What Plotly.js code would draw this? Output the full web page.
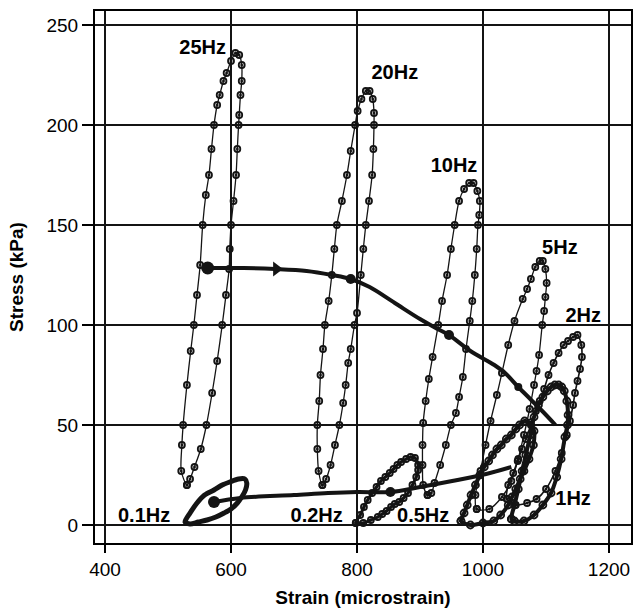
<!DOCTYPE html>
<html>
<head>
<meta charset="utf-8">
<script src="https://cdn.plot.ly/plotly-3.0.1.min.js"></script>
<style>html,body{margin:0;padding:0;background:#fff;}#chart{width:633px;height:608px;}</style>
</head>
<body>
<div id="chart"></div>
<script>
// ---- axis ticks ----
const xTicks = [400, 600, 800, 1000, 1200];
const yTicks = [0, 50, 100, 150, 200, 250];

// ---- hysteresis loops (strain in microstrain, stress in kPa) ----
const hz25X = [530,521,522,524,530,536,541,546,551,555,560,565,569,573,578,582,588,593,600,607,613,617,617,615,613,612,610,608,604,600,598,597,592,586,578,570,561,552,542,535,530];
const hz25Y = [20,27,40,50,70,87,100,115,130,150,165,175,188,200,210,215,222,226,232,236,235,230,222,215,205,200,188,175,162,150,138,128,115,100,82,66,50,38,29,23,20];

const hz20X = [745,739,737,737,740,742,746,749,755,760,764,768,776,784,790,797,801,807,814,820,825,827,827,826,824,819,814,810,806,800,796,790,786,782,778,772,765,758,751,745];
const hz20Y = [20,27,38,50,62,75,88,100,112,125,138,150,162,175,187,200,207,213,217,217,213,206,200,188,175,162,150,138,125,106,100,88,81,70,61,50,40,30,23,20];

const hz10X = [912,905,904,904,905,909,914,920,929,935,943,949,955,962,970,978,985,991,995,994,992,990,987,983,979,973,968,962,957,949,941,932,923,918,912];
const hz10Y = [15,20,30,40,51,62,73,84,100,112,125,138,150,162,168,171,171,167,162,155,150,138,125,112,102,88,74,64,56,50,40,30,21,16,15];

const hz5X = [990,988,996,1004,1012,1022,1030,1040,1050,1063,1070,1076,1083,1090,1095,1099,1101,1099,1097,1094,1089,1085,1081,1074,1065,1055,1045,1030,1010,990];
const hz5Y = [8,15,27,40,52,65,76,90,102,113,118,123,129,132,132,128,121,114,107,100,85,77,70,58,45,32,22,14,8,8];

const hz2X = [1038,1040,1048,1056,1062,1068,1076,1084,1090,1097,1104,1112,1120,1128,1135,1143,1150,1156,1157,1154,1150,1146,1143,1138,1133,1125,1115,1100,1085,1070,1052,1038];
const hz2Y = [13,20,26,33,38,43,50,57,62,68,75,81,86,90,92,94,95,90,84,78,72,66,60,52,45,36,27,18,13,11,10,13];

const hz1X = [1045,1050,1056,1062,1068,1075,1081,1088,1095,1102,1108,1114,1120,1125,1129,1133,1135,1134,1130,1124,1117,1108,1095,1081,1065,1050,1045];
const hz1Y = [3,10,18,27,35,45,54,60,64,67,69,70,70,69,67,62,55,50,44,33,24,16,10,5,2,2,3];

const hz05X = [965,970,975,981,988,995,1002,1009,1015,1022,1029,1037,1045,1052,1058,1066,1075,1081,1080,1073,1065,1059,1052,1046,1040,1028,1017,1000,980,965];
const hz05Y = [2,6,10,15,20,25,29,32,35,38,40,43,45,48,50,52,51,47,40,33,27,23,18,14,10,5,2,1,0,2];

const hz02X = [798,805,811,817,824,831,838,845,852,858,864,870,878,885,892,897,897,894,888,881,874,867,860,854,847,840,833,822,810,798];
const hz02Y = [1,5,9,12.5,16,19,22,24,26,28,30,31.5,33,34,33.5,30,27.5,24,20,16,13.5,11.5,10.5,9,7,5.5,4,2.5,1,1];

const hz01X = [527,535,546,558,573,586,598,612,622,625,623,617,610,600,589,576,562,548,535,527];
const hz01Y = [1.5,6,11,15,17.5,20,21.5,23,23,21,17.5,14,11,8,6,4,2.5,1.5,0.5,1.5];

// ---- trajectories joining the loop centres ----
const highPathX = [563,620,670,720,760,790,820,860,900,928,946,980,1018,1035,1056,1075,1094,1115];
const highPathY = [128.5,128.5,128,127,125,123,119,111,103,98,95,87,80,76,69,63,57,50];
const highDotX = [563,790,946,1056];
const highDotY = [128.5,123,95,69];

const lowPathX = [573,615,700,754,800,853,900,951,1005,1045];
const lowPathY = [11.5,13.5,15,16,16.5,16.5,19,22,25.5,29];
const lowDotX = [573,853];
const lowDotY = [11.5,16.5];

const arrowX = [672];
const arrowY = [128];

// ---- frequency labels ----
const labelText = ['25Hz','20Hz','10Hz','5Hz','2Hz','1Hz','0.1Hz','0.2Hz','0.5Hz'];
const labelX = [555,860,954,1122,1159,1143,462,736,905];
const labelY = [238,225.5,179,138,104,12.5,4,4,4];

const ink = '#141414';

function loopTrace(x, y, lw, msize) {
  return {
    type: 'scatter', mode: msize > 0 ? 'lines+markers' : 'lines',
    x: x, y: y,
    line: {color: ink, width: lw, shape: 'spline', smoothing: 0.8},
    marker: {symbol: 'circle-open-dot', size: msize, color: ink, opacity: 1, line: {width: 1.8, color: ink}},
    hoverinfo: 'skip'
  };
}

const traces = [
  loopTrace(hz25X, hz25Y, 1.3, 6),
  loopTrace(hz20X, hz20Y, 1.3, 6),
  loopTrace(hz10X, hz10Y, 1.3, 6),
  loopTrace(hz5X, hz5Y, 1.3, 6),
  loopTrace(hz2X, hz2Y, 1.6, 6),
  loopTrace(hz1X, hz1Y, 4, 7),
  loopTrace(hz05X, hz05Y, 4, 7),
  loopTrace(hz02X, hz02Y, 3, 6),
  loopTrace(hz01X, hz01Y, 5, 0),
  {type:'scatter', mode:'lines', x: highPathX, y: highPathY, line:{color: ink, width: 4, shape:'spline'}, hoverinfo:'skip'},
  {type:'scatter', mode:'markers', x: highDotX, y: highDotY, marker:{color: ink, opacity: 1, size: [13,10,10,8], line:{width:0}}, hoverinfo:'skip'},
  {type:'scatter', mode:'lines', x: lowPathX, y: lowPathY, line:{color: ink, width: 4, shape:'spline'}, hoverinfo:'skip'},
  {type:'scatter', mode:'markers', x: lowDotX, y: lowDotY, marker:{color: ink, opacity: 1, size: [12,10], line:{width:0}}, hoverinfo:'skip'},
  {type:'scatter', mode:'markers', x: arrowX, y: arrowY, marker:{symbol:'triangle-right', color: ink, opacity: 1, size: 13, line:{width:0}}, hoverinfo:'skip'},
  {type:'scatter', mode:'text', x: labelX, y: labelY, text: labelText, textposition:'middle center',
   textfont:{family:'Liberation Sans, Arial, sans-serif', size:20, color:'#000', weight:'bold'}, hoverinfo:'skip'}
];

const axisCommon = {
  showgrid: true, gridcolor: ink, gridwidth: 2,
  showline: true, mirror: true, linecolor: '#000', linewidth: 2,
  ticks: 'outside', tickwidth: 2, tickcolor: '#000',
  tickfont: {family:'Liberation Sans, Arial, sans-serif', size: 19, color:'#000'},
  ticklabeloverflow: 'allow',
  zeroline: false, fixedrange: true
};

const layout = {
  width: 633, height: 608,
  margin: {l: 95, r: 2, t: 11, b: 65},
  paper_bgcolor: '#fff', plot_bgcolor: '#fff',
  showlegend: false,
  font: {family: 'Liberation Sans, Arial, sans-serif', color: '#000'},
  xaxis: Object.assign({}, axisCommon, {
    range: [384.1, 1234.9], tickmode: 'array', tickvals: xTicks, ticktext: xTicks.map(String), ticklen: 8,
    title: {text: '<b>Strain (microstrain)</b>', font: {size: 19, color:'#000'}, standoff: 14}
  }),
  yaxis: Object.assign({}, axisCommon, {
    range: [-9, 257], tickmode: 'array', tickvals: yTicks, ticktext: yTicks.map(String), ticklen: 11,
    title: {text: '<b>Stress (kPa)</b>', font: {size: 19, color:'#000'}, standoff: 18}
  })
};

Plotly.newPlot('chart', traces, layout, {staticPlot: true, displayModeBar: false});
</script>
</body>
</html>
